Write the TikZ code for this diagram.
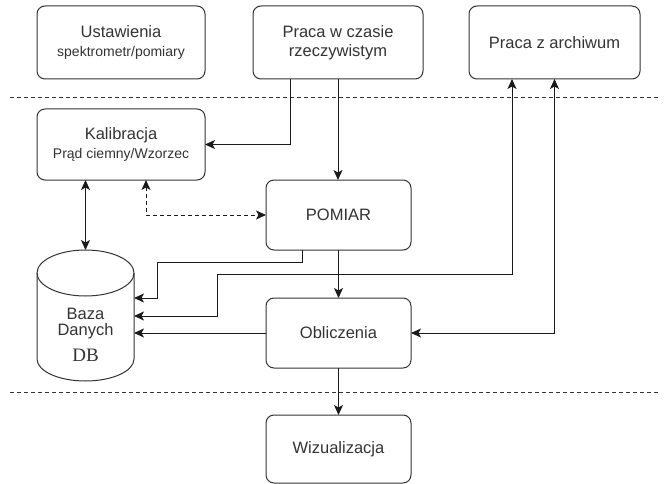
\documentclass[tikz,border=0pt]{standalone}
\usepackage{fontspec}
\setmainfont{Liberation Sans}
\newfontfamily\dbfont{Liberation Serif}
\usetikzlibrary{arrows.meta}

\definecolor{c333333}{RGB}{51,51,51}
\definecolor{c1a1a1a}{RGB}{26,26,26}
\newcommand{\subsize}{\fontsize{14}{17}\selectfont}

\begin{document}
\begin{tikzpicture}[y=1pt, x=1pt, yscale=-1, inner sep=0pt, outer sep=0pt,
  box/.style={draw=c333333, line width=1pt, rounded corners=8pt, align=center,
    text=c333333, font=\fontsize{16.5}{19}\selectfont},
  link/.style={draw=c1a1a1a, line width=1pt},
  sep/.style={draw=c333333, line width=0.9pt, dash pattern=on 4pt off 3pt},
  >={Stealth[length=10pt,width=9pt,inset=2.5pt]}]

  \useasboundingbox (0,0) rectangle (664,484);

  % upper row
  \node[box, minimum width=168pt, minimum height=73pt] (ustawienia) at (121,42.5)
    {Ustawienia\\{\subsize spektrometr/pomiary}};
  \node[box, minimum width=170pt, minimum height=73pt] (czas) at (338,42.5)
    {Praca w czasie\\rzeczywistym};
  \node[box, minimum width=171pt, minimum height=73pt] (archiwum) at (554.5,42.5)
    {Praca z archiwum};

  \path[sep] (10,97) -- (660,97);

  % middle part
  \node[box, minimum width=168pt, minimum height=71pt] (kalibracja) at (121,144.5)
    {Kalibracja\\{\subsize Prąd ciemny/Wzorzec}};
  \node[box, minimum width=145pt, minimum height=70pt] (pomiar) at (338.5,215)
    {POMIAR};
  \node[box, minimum width=145pt, minimum height=70pt] (obliczenia) at (338.5,333)
    {Obliczenia};

  % database cylinder
  \node[minimum width=97pt, minimum height=131pt] (db) at (85.5,315.5) {};
  \path[draw=c333333, line width=1pt] (85.5,273) ellipse [x radius=48.5, y radius=23];
  \path[draw=c333333, line width=1pt] (37,273) -- (37,359)
    arc [start angle=180, end angle=0, x radius=48.5, y radius=22] -- (134,273);
  \node[align=center, text=c333333, font=\fontsize{16.5}{16}\selectfont] (dbtext)
    at (85.5,335) {Baza\\Danych\\[10pt]{\dbfont\fontsize{19}{19}\selectfont DB}};

  \path[sep] (10,392) -- (660,392);

  % lower part
  \node[box, minimum width=145pt, minimum height=68pt] (wizualizacja) at (338.5,449)
    {Wizualizacja};

  % connectors
  \draw[link,->] ([xshift=-48pt]czas.south) |- (kalibracja.east);
  \draw[link,->] (czas.south) -- (czas.south |- pomiar.north);
  \draw[link,<->] (db.north |- kalibracja.south) -- (db.north);
  \draw[link,<->,dash pattern=on 4pt off 3pt] ([xshift=25pt]kalibracja.south)
    |- (pomiar.west);
  \draw[link,->] ([xshift=-36.5pt]pomiar.south) -- ++(0,12) -| ++(-145,36)
    -- (db.east |- 0,298);
  \draw[link,<->] (db.east |- 0,316) -| ++(83,-42)
    -| ([xshift=-42.5pt]archiwum.south);
  \draw[link,<->] (obliczenia.east) -| (archiwum.south);
  \draw[link,->] (pomiar.south) -- (obliczenia.north);
  \draw[link,->] (obliczenia.west) -- (db.east |- obliczenia.west);
  \draw[link,->] (obliczenia.south) -- (wizualizacja.north);

\end{tikzpicture}
\end{document}
